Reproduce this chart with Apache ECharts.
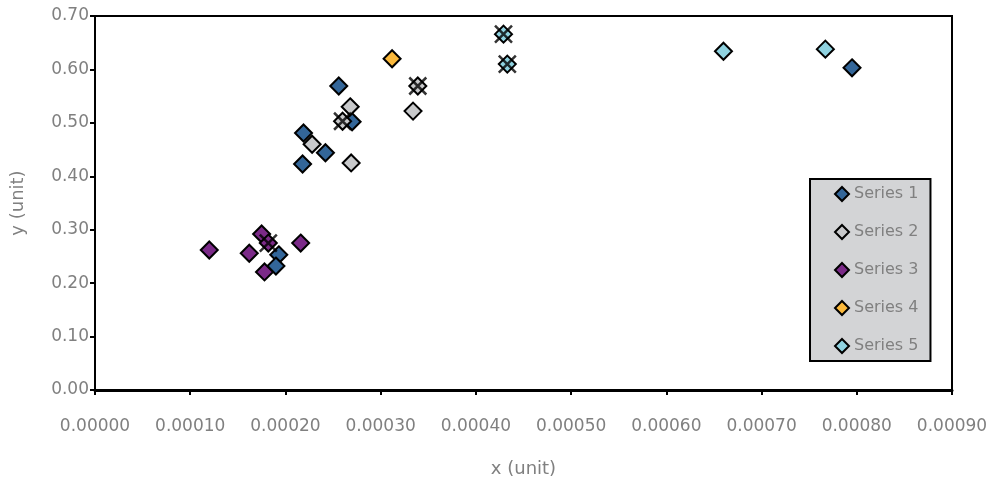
<!DOCTYPE html>
<html>
<head>
<meta charset="utf-8">
<script src="https://cdn.jsdelivr.net/npm/echarts@6/dist/echarts.min.js"></script>
<style>
  html, body { margin: 0; padding: 0; background: #fff; }
  #chart { width: 995px; height: 479px; }
</style>
</head>
<body>
<div id="chart"></div>
<script>
  // data: [x, y]
  var seriesNames = ['Series 1', 'Series 2', 'Series 3', 'Series 4', 'Series 5'];
  var seriesColors = ['#336699', '#c8c9cb', '#7b2a88', '#fbb93c', '#8fd2e0'];

  var series1 = [[0.000256, 0.569], [0.000219, 0.481], [0.000242, 0.444], [0.000218, 0.423],
                 [0.000270, 0.502], [0.000193, 0.253], [0.000190, 0.232], [0.000795, 0.603]];
  var series2 = [[0.000228, 0.460], [0.000268, 0.530], [0.000334, 0.522], [0.000269, 0.425],
                 [0.000260, 0.503], [0.000339, 0.569]];
  var series3 = [[0.000120, 0.262], [0.000162, 0.256], [0.000175, 0.292], [0.000216, 0.275],
                 [0.000178, 0.221], [0.000182, 0.275]];
  var series4 = [[0.000312, 0.620]];
  var series5 = [[0.000429, 0.666], [0.000433, 0.610], [0.000660, 0.634], [0.000767, 0.638]];
  // points marked with a cross on top
  var crossed = [[0.000260, 0.503], [0.000339, 0.569], [0.000429, 0.666],
                 [0.000433, 0.610], [0.000182, 0.275]];

  var allData = [series1, series2, series3, series4, series5];

  var chart = echarts.init(document.getElementById('chart'));

  var seriesList = allData.map(function (d, i) {
    return {
      name: seriesNames[i],
      type: 'scatter',
      symbol: 'diamond',
      symbolSize: 17,
      data: d,
      itemStyle: { color: seriesColors[i], borderColor: '#000', borderWidth: 2, opacity: 1 }
    };
  });
  seriesList.push({
    name: 'cross',
    type: 'scatter',
    symbol: 'path://M0,0L10,10M10,0L0,10',
    symbolSize: 17,
    data: crossed,
    z: 5,
    itemStyle: { color: 'none', borderColor: '#000', borderWidth: 2.5 }
  });

  chart.setOption({
    animation: false,
    grid: {
      left: 95, right: 43, top: 16, bottom: 89,
      outerBoundsMode: 'none', containLabel: false,
      show: true, borderColor: '#000', borderWidth: 2, backgroundColor: '#fff'
    },
    legend: {
      data: seriesNames.map(function (n) { return { name: n, icon: 'diamond' }; }),
      orient: 'vertical',
      left: 810, top: 179,
      itemWidth: 14, itemHeight: 14, itemGap: 22,
      padding: [7, 12, 7, 24],
      backgroundColor: '#d3d4d6',
      borderColor: '#000', borderWidth: 2, borderRadius: 0,
      textStyle: { color: '#808080', fontSize: 16, fontFamily: 'DejaVu Sans' }
    },
    xAxis: {
      type: 'value',
      min: 0, max: 0.0009, interval: 0.0001,
      name: 'x (unit)',
      nameLocation: 'middle', nameGap: 70,
      nameTextStyle: { color: '#808080', fontSize: 18, fontFamily: 'DejaVu Sans' },
      axisLine: { lineStyle: { color: '#000', width: 3 } },
      axisTick: { show: true, length: 5, lineStyle: { color: '#000', width: 2 } },
      axisLabel: {
        color: '#808080', fontSize: 17, margin: 28, fontFamily: 'DejaVu Sans',
        formatter: function (v) { return v.toFixed(5); }
      },
      splitLine: { show: false }
    },
    yAxis: {
      type: 'value',
      min: 0, max: 0.7, interval: 0.1,
      name: 'y (unit)',
      nameLocation: 'middle', nameGap: 68,
      nameTextStyle: { color: '#808080', fontSize: 18, fontFamily: 'DejaVu Sans' },
      axisLine: { show: true, lineStyle: { color: '#000', width: 2 } },
      axisTick: { show: true, length: 5, lineStyle: { color: '#000', width: 2 } },
      axisLabel: {
        color: '#808080', fontSize: 17, margin: 6, fontFamily: 'DejaVu Sans',
        formatter: function (v) { return v.toFixed(2); }
      },
      splitLine: { show: false }
    },
    series: seriesList
  });
</script>
</body>
</html>
